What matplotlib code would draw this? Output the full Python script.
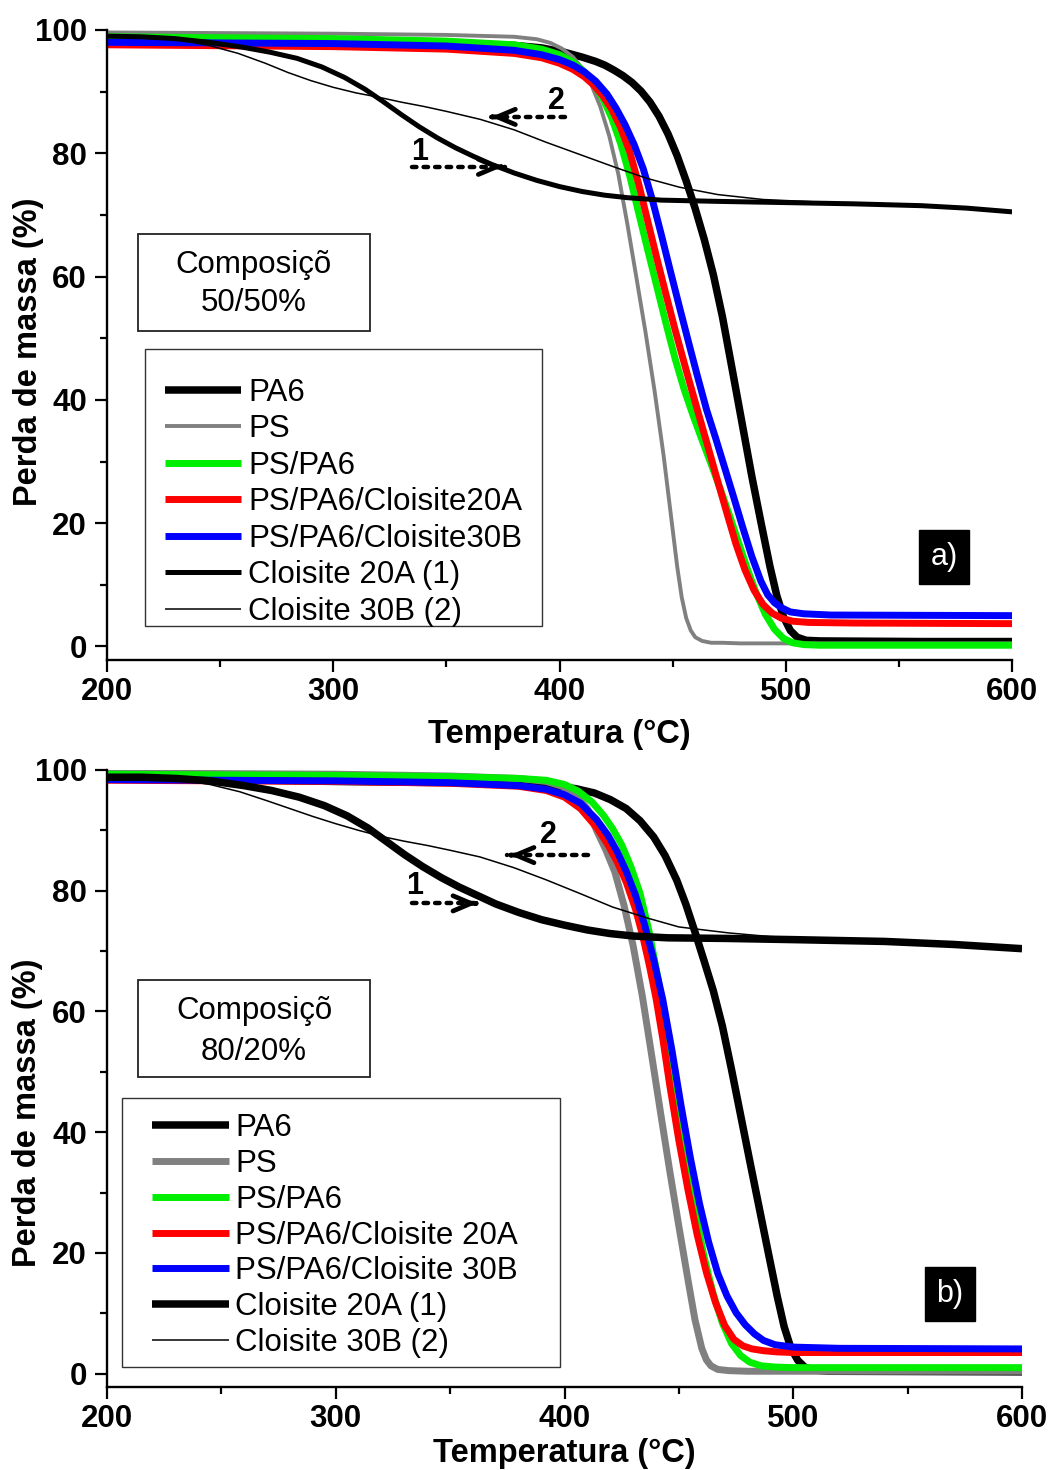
import matplotlib
matplotlib.use("Agg")
from matplotlib import pyplot as plt
from matplotlib.patches import Rectangle

plt.rcParams['font.family'] = ['Liberation Sans', 'DejaVu Sans']

# ---------------- Data: panel a) 50/50% ----------------
pa6_a_T = [200, 250, 300, 350, 380, 392, 402, 410, 416, 420, 424, 428, 432, 436, 440, 444, 448, 452, 456, 460, 464, 468, 472, 476, 480, 485, 489, 493, 496, 499, 502, 505, 509, 515, 560, 600]
pa6_a_W = [98.4, 98.2, 98.0, 97.8, 97.5, 97.1, 96.4, 95.6, 94.9, 94.3, 93.5, 92.6, 91.5, 90.1, 88.3, 86.0, 83.1, 79.6, 75.5, 71.0, 66.0, 60.3, 53.5, 45.6, 37.6, 27.6, 20.2, 13.0, 8.3, 4.8, 2.6, 1.5, 1.0, 0.9, 0.8, 0.8]

ps_a_T = [200, 300, 350, 380, 390, 396, 401, 406, 410, 414, 418, 422, 426, 430, 434, 438, 442, 446, 449, 452, 454, 456, 458, 460, 463, 467, 472, 480, 600]
ps_a_W = [99.6, 99.4, 99.2, 98.9, 98.5, 97.9, 97.0, 95.6, 93.8, 91.2, 87.6, 82.8, 76.6, 68.5, 59.8, 51.0, 41.5, 31.0, 22.0, 13.0, 8.0, 4.6, 2.6, 1.5, 0.9, 0.6, 0.6, 0.5, 0.5]

blend_a_T = [200, 300, 350, 380, 392, 400, 406, 411, 415, 419, 423, 427, 431, 435, 439, 443, 447, 451, 455, 459, 463, 467, 471, 475, 479, 483, 487, 491, 495, 499, 503, 508, 515, 600]
blend_a_W = [98.9, 98.6, 98.2, 97.6, 96.9, 96.0, 94.8, 93.2, 91.3, 89.0, 85.8, 81.6, 76.4, 70.3, 64.3, 58.4, 52.5, 46.8, 41.8, 37.5, 33.5, 29.6, 25.6, 21.4, 17.0, 12.6, 8.6, 5.2, 2.8, 1.3, 0.6, 0.3, 0.2, 0.2]

c20a_a_T = [200, 300, 350, 380, 392, 400, 406, 411, 415, 419, 423, 427, 431, 435, 439, 443, 447, 451, 456, 461, 466, 470, 474, 478, 482, 486, 490, 494, 498, 503, 510, 530, 600]
c20a_a_W = [97.6, 97.3, 96.9, 96.2, 95.5, 94.6, 93.6, 92.4, 91.1, 89.4, 87.2, 84.2, 80.3, 75.0, 69.0, 63.0, 57.2, 51.5, 44.8, 38.3, 31.9, 26.7, 21.6, 16.6, 12.4, 9.1, 6.8, 5.4, 4.6, 4.1, 3.9, 3.8, 3.7]

c30b_a_T = [200, 300, 350, 380, 392, 400, 406, 411, 416, 421, 425, 429, 433, 437, 441, 445, 449, 453, 457, 461, 465, 469, 473, 477, 481, 485, 489, 492, 495, 498, 502, 508, 520, 600]
c30b_a_W = [98.0, 97.8, 97.4, 96.7, 96.0, 95.2, 94.3, 93.2, 91.7, 89.6, 87.3, 84.6, 81.4, 77.5, 72.5, 66.8, 60.9, 55.1, 49.4, 43.8, 38.4, 33.8, 29.0, 24.2, 19.3, 14.6, 10.6, 8.4, 7.1, 6.3, 5.6, 5.3, 5.1, 5.0]

cl20a_a_T = [200, 215, 230, 245, 260, 272, 284, 295, 305, 314, 322, 330, 338, 346, 354, 362, 370, 380, 390, 400, 410, 420, 430, 445, 470, 500, 530, 560, 580, 600]
cl20a_a_W = [99.0, 98.9, 98.6, 98.0, 97.2, 96.4, 95.4, 94.0, 92.3, 90.4, 88.4, 86.3, 84.3, 82.5, 80.9, 79.5, 78.2, 76.8, 75.6, 74.6, 73.8, 73.2, 72.8, 72.4, 72.2, 72.0, 71.8, 71.5, 71.1, 70.5]

cl30b_a_T = [200, 215, 230, 245, 258, 270, 280, 290, 300, 310, 320, 330, 340, 350, 365, 380, 394, 409, 424, 438, 453, 470, 490, 520, 560, 600]
cl30b_a_W = [99.0, 98.9, 98.5, 97.5, 96.2, 94.6, 93.1, 91.8, 90.7, 89.8, 89.1, 88.3, 87.6, 86.8, 85.5, 83.8, 81.8, 79.8, 77.8, 76.0, 74.5, 73.3, 72.5, 72.0, 71.5, 70.5]

# ---------------- Data: panel b) 80/20% ----------------
pa6_b_T = [200, 250, 300, 350, 380, 395, 405, 413, 420, 427, 433, 439, 444, 449, 453, 457, 461, 465, 469, 473, 477, 481, 485, 489, 493, 496, 499, 502, 505, 509, 515, 600]
pa6_b_W = [98.8, 98.4, 98.1, 97.9, 97.7, 97.4, 96.9, 96.2, 95.1, 93.6, 91.6, 88.9, 85.8, 81.8, 77.8, 73.2, 68.4, 63.5, 57.6, 50.4, 42.8, 35.2, 27.7, 20.2, 12.8, 7.8, 4.2, 2.2, 1.1, 0.6, 0.4, 0.3]

ps_b_T = [200, 300, 350, 380, 392, 399, 405, 410, 414, 418, 422, 426, 430, 434, 438, 442, 446, 450, 454, 457, 460, 462, 464, 467, 472, 480, 600]
ps_b_W = [99.5, 99.3, 99.0, 98.6, 98.1, 97.3, 95.8, 93.6, 90.0, 86.8, 83.1, 77.6, 70.9, 62.6, 53.0, 43.2, 33.6, 24.4, 15.5, 9.0, 4.2, 2.3, 1.3, 0.7, 0.5, 0.4, 0.4]

blend_b_T = [200, 300, 350, 380, 392, 400, 406, 412, 417, 421, 425, 429, 433, 437, 441, 445, 449, 453, 457, 461, 465, 469, 473, 477, 481, 486, 492, 500, 600]
blend_b_W = [99.3, 99.1, 98.9, 98.6, 98.3, 97.6, 96.5, 94.7, 92.5, 90.3, 87.6, 84.0, 79.6, 73.2, 65.2, 55.8, 45.6, 35.8, 27.0, 19.4, 13.2, 8.4, 5.0, 3.0, 1.9, 1.3, 1.1, 1.0, 1.0]

c20a_b_T = [200, 300, 350, 380, 392, 400, 407, 414, 419, 423, 427, 431, 434, 437, 440, 443, 446, 450, 454, 458, 462, 466, 470, 474, 478, 482, 487, 493, 500, 520, 600]
c20a_b_W = [98.3, 98.1, 97.8, 97.3, 96.6, 95.5, 93.6, 90.5, 87.6, 84.8, 81.4, 77.0, 72.8, 67.8, 62.2, 55.4, 47.8, 38.6, 30.4, 23.0, 16.8, 11.8, 8.0, 5.7, 4.6, 4.1, 3.8, 3.6, 3.5, 3.5, 3.5]

c30b_b_T = [200, 300, 350, 380, 392, 400, 407, 414, 419, 423, 427, 431, 435, 439, 443, 447, 451, 455, 459, 463, 467, 471, 475, 479, 483, 487, 492, 500, 520, 600]
c30b_b_W = [98.4, 98.2, 97.9, 97.4, 96.8, 95.9, 94.5, 91.8, 89.2, 86.5, 83.2, 79.3, 74.4, 68.6, 61.9, 53.5, 44.3, 35.8, 28.2, 21.8, 16.6, 12.9, 10.1, 8.1, 6.6, 5.5, 4.8, 4.4, 4.2, 4.1]

cl20a_b_T = [200, 215, 230, 245, 260, 272, 284, 295, 305, 314, 322, 330, 338, 346, 354, 362, 370, 380, 390, 400, 410, 420, 430, 445, 470, 500, 540, 570, 600]
cl20a_b_W = [98.8, 98.8, 98.6, 98.2, 97.4, 96.6, 95.5, 94.1, 92.4, 90.4, 88.2, 86.0, 84.0, 82.2, 80.6, 79.2, 77.8, 76.4, 75.2, 74.3, 73.5, 72.9, 72.5, 72.2, 72.1, 71.9, 71.6, 71.1, 70.4]

cl30b_b_T = [200, 215, 230, 245, 258, 270, 280, 290, 300, 310, 320, 330, 340, 350, 363, 378, 392, 407, 421, 436, 450, 472, 490, 520, 560, 600]
cl30b_b_W = [99.0, 98.9, 98.5, 97.6, 96.4, 94.9, 93.6, 92.3, 91.1, 90.0, 89.0, 88.2, 87.5, 86.7, 85.6, 83.8, 81.8, 79.5, 77.3, 75.5, 74.0, 73.0, 72.4, 72.0, 71.5, 70.5]

labels_a = ['PA6', 'PS', 'PS/PA6', 'PS/PA6/Cloisite20A', 'PS/PA6/Cloisite30B', 'Cloisite 20A (1)', 'Cloisite 30B (2)']
labels_b = ['PA6', 'PS', 'PS/PA6', 'PS/PA6/Cloisite 20A', 'PS/PA6/Cloisite 30B', 'Cloisite 20A (1)', 'Cloisite 30B (2)']
colors = ['black', '#808080', '#00ee00', '#ff0000', '#0000ff', 'black', 'black']

fig = plt.figure(figsize=(10.52, 14.7), dpi=100)
ax1 = fig.add_axes([0.1017, 0.551, 0.8603, 0.4286])
ax2 = fig.add_axes([0.1017, 0.0565, 0.8698, 0.4197])


def style_axes(ax, right):
    ax.set_xlim(200, right)
    ax.set_ylim(-2.2, 100)
    for s in ['top', 'right']:
        ax.spines[s].set_visible(False)
    for s in ['left', 'bottom']:
        ax.spines[s].set_linewidth(1.7)
    ax.set_xticks([200, 300, 400, 500, 600])
    ax.set_xticks([250, 350, 450, 550], minor=True)
    ax.set_yticks([0, 20, 40, 60, 80, 100])
    ax.set_yticks([10, 30, 50, 70, 90], minor=True)
    ax.tick_params(which='major', direction='out', length=8.5, width=1.6, labelsize=22.5, pad=4)
    ax.tick_params(axis='y', which='major', pad=6)
    ax.tick_params(which='minor', direction='out', length=5, width=1.6)
    for lab in ax.get_xticklabels() + ax.get_yticklabels():
        lab.set_fontweight('bold')
    ax.set_xlabel('Temperatura (°C)', fontsize=23.5, fontweight='bold')
    ax.set_ylabel('Perda de massa (%)', fontsize=23.5, fontweight='bold')


def curve(ax, T, W, color, lw):
    return ax.plot(T, W, color=color, lw=lw, solid_joinstyle='round', solid_capstyle='butt')


def dotted_arrow(ax, x0, x1, y):
    ax.plot([x0, x1], [y, y], color='black', linestyle=(0, (1, 1.6)), lw=3.2, dash_capstyle='round')
    d = 1.0 if x1 > x0 else -1.0
    ax.annotate('', xy=(x1, y), xytext=(x1 - d * 3, y),
                arrowprops=dict(arrowstyle='->,head_length=1.3,head_width=0.55', lw=3.4, color='black'))


# ---------------- panel a ----------------
style_axes(ax1, 600)
lines_a = []
lines_a += curve(ax1, pa6_a_T, pa6_a_W, colors[0], 5.4)
lines_a += curve(ax1, ps_a_T, ps_a_W, colors[1], 2.8)
lines_a += curve(ax1, blend_a_T, blend_a_W, colors[2], 5.0)
lines_a += curve(ax1, c20a_a_T, c20a_a_W, colors[3], 5.0)
lines_a += curve(ax1, c30b_a_T, c30b_a_W, colors[4], 5.0)
lines_a += curve(ax1, cl20a_a_T, cl20a_a_W, colors[5], 3.6)
lines_a += curve(ax1, cl30b_a_T, cl30b_a_W, colors[6], 1.1)
ax1.xaxis.set_label_coords(0.5, -0.094)
ax1.yaxis.set_label_coords(-0.07, 0.49)

ax1.add_patch(Rectangle((0.042, 0.054), 0.439, 0.44, transform=ax1.transAxes, fill=False, lw=1.0, edgecolor='#333333', zorder=5))
ax1.legend(lines_a, labels_a, loc='upper left', bbox_to_anchor=(0.064, 0.4484), frameon=False,
           fontsize=22.5, borderpad=0, borderaxespad=0, handlelength=2.45, handletextpad=0.22, labelspacing=0.21)
ax1.add_patch(Rectangle((0.0343, 0.522), 0.2563, 0.154, transform=ax1.transAxes, fill=False, lw=1.3, edgecolor='#222222'))
ax1.text(0.1624, 0.627, 'Composiçõ', transform=ax1.transAxes, ha='center', va='center', fontsize=22.5)
ax1.text(0.1624, 0.567, '50/50%', transform=ax1.transAxes, ha='center', va='center', fontsize=22.5)
ax1.text(0.925, 0.1635, 'a)', transform=ax1.transAxes, ha='center', va='center', fontsize=22, color='white',
         bbox=dict(boxstyle='square,pad=0.38', facecolor='black', edgecolor='black'))
ax1.text(338.3, 80.2, '1', ha='center', va='center', fontsize=22, fontweight='bold')
dotted_arrow(ax1, 335, 376, 77.8)
ax1.text(398.5, 88.4, '2', ha='center', va='center', fontsize=22, fontweight='bold')
dotted_arrow(ax1, 402.6, 368.6, 85.9)

# ---------------- panel b ----------------
style_axes(ax2, 600)
lines_b = []
lines_b += curve(ax2, pa6_b_T, pa6_b_W, colors[0], 5.4)
lines_b += curve(ax2, ps_b_T, ps_b_W, colors[1], 5.0)
lines_b += curve(ax2, blend_b_T, blend_b_W, colors[2], 5.0)
lines_b += curve(ax2, c20a_b_T, c20a_b_W, colors[3], 5.0)
lines_b += curve(ax2, c30b_b_T, c30b_b_W, colors[4], 5.0)
lines_b += curve(ax2, cl20a_b_T, cl20a_b_W, colors[5], 5.4)
lines_b += curve(ax2, cl30b_b_T, cl30b_b_W, colors[6], 1.1)
ax2.xaxis.set_label_coords(0.5, -0.083)
ax2.yaxis.set_label_coords(-0.07, 0.444)

ax2.add_patch(Rectangle((0.0164, 0.0324), 0.4786, 0.4356, transform=ax2.transAxes, fill=False, lw=1.0, edgecolor='#333333', zorder=5))
ax2.legend(lines_b, labels_b, loc='upper left', bbox_to_anchor=(0.0492, 0.4437), frameon=False,
           fontsize=22.5, borderpad=0, borderaxespad=0, handlelength=2.45, handletextpad=0.22, labelspacing=0.185)
ax2.add_patch(Rectangle((0.0339, 0.5024), 0.2535, 0.1572, transform=ax2.transAxes, fill=False, lw=1.3, edgecolor='#222222'))
ax2.text(0.1607, 0.609, 'Composiçõ', transform=ax2.transAxes, ha='center', va='center', fontsize=22.5)
ax2.text(0.1607, 0.543, '80/20%', transform=ax2.transAxes, ha='center', va='center', fontsize=22.5)
ax2.text(0.921, 0.1507, 'b)', transform=ax2.transAxes, ha='center', va='center', fontsize=22, color='white',
         bbox=dict(boxstyle='square,pad=0.38', facecolor='black', edgecolor='black'))
ax2.text(334.6, 80.8, '1', ha='center', va='center', fontsize=22, fontweight='bold')
dotted_arrow(ax2, 333.3, 363, 77.9)
ax2.text(392.8, 89.2, '2', ha='center', va='center', fontsize=22, fontweight='bold')
dotted_arrow(ax2, 410.3, 374.9, 85.9)

fig.savefig('out.png', dpi=100)
plt.close(fig)
